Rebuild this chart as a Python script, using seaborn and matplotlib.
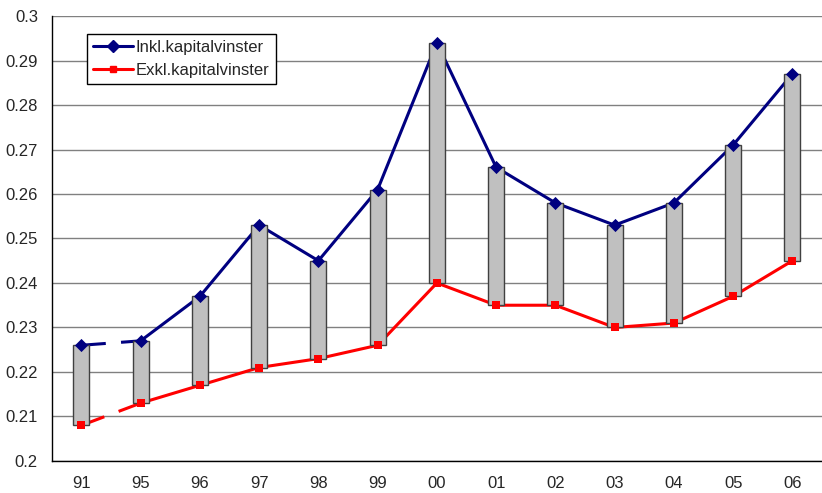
import numpy as np
import pandas as pd
import matplotlib
matplotlib.use('Agg')
import matplotlib.pyplot as plt
import seaborn as sns

# Data
years = ['91', '95', '96', '97', '98', '99', '00', '01', '02', '03', '04', '05', '06']
inkl = [0.226, 0.227, 0.237, 0.253, 0.245, 0.261, 0.294, 0.266, 0.258, 0.253, 0.258, 0.271, 0.287]
exkl = [0.208, 0.213, 0.217, 0.221, 0.223, 0.226, 0.240, 0.235, 0.235, 0.230, 0.231, 0.237, 0.245]

sns.set_style('white')
plt.rcParams['font.family'] = ['Liberation Sans', 'DejaVu Sans']

df = pd.DataFrame({'pos': np.arange(len(years)), 'inkl': inkl, 'exkl': exkl})

fig = plt.figure(figsize=(8.22, 4.93), dpi=100)
ax = fig.add_axes([0.063, 0.065, 0.937, 0.9025])

blue = '#000080'
red = '#ff0000'

# lines: dashed between 91 and 95, solid after
for col, c in [('inkl', blue), ('exkl', red)]:
    ax.plot(df['pos'][:2], df[col][:2], color=c, lw=2.2, ls=(0, (8, 5)), zorder=2)
    sns.lineplot(data=df.iloc[1:], x='pos', y=col, color=c, lw=2.2, ax=ax, zorder=2)

# grey high-low bars
ax.bar(df['pos'], df['inkl'] - df['exkl'], bottom=df['exkl'], width=0.27,
       color='#c0c0c0', edgecolor='#404040', linewidth=1.0, zorder=3)

# markers on top
ax.scatter(df['pos'], df['inkl'], marker='D', s=45, color=blue, zorder=4, linewidths=0)
ax.scatter(df['pos'], df['exkl'], marker='s', s=28, color=red, zorder=4, linewidths=0)

# legend handles
ax.plot([], [], color=blue, lw=2.2, marker='D', ms=6, label='Inkl.kapitalvinster')
ax.plot([], [], color=red, lw=2.2, marker='s', ms=5, label='Exkl.kapitalvinster')
leg = ax.legend(loc='upper left', bbox_to_anchor=(35 / 770, 0.96), fontsize=12,
                frameon=True, fancybox=False, edgecolor='black', framealpha=1,
                borderpad=0.35, borderaxespad=0, handlelength=2.4, handletextpad=0.2,
                labelspacing=0.5)
leg.get_frame().set_linewidth(1.0)

ax.set_ylim(0.2, 0.3)
ax.set_yticks(np.arange(0.2, 0.3001, 0.01))
ax.set_yticklabels(['0.2'] + ['%.2f' % v for v in np.arange(0.21, 0.2951, 0.01)] + ['0.3'])
ax.set_xlim(-0.5, 12.5 - 10 / 60)
ax.set_xticks(np.arange(len(years)))
ax.set_xticklabels(years)
ax.set_xticks(np.arange(-0.5, 12.6, 1), minor=True)
ax.tick_params(axis='x', which='major', length=0, pad=11, labelsize=12)
ax.tick_params(axis='x', which='minor', length=5, width=1, direction='out', color='black')
ax.tick_params(axis='y', length=5, width=1, direction='out', color='black', labelsize=12, pad=5)
ax.set_xlabel('')
ax.set_ylabel('')

ax.yaxis.grid(True, color='#808080', lw=1.0, zorder=0)
ax.set_axisbelow(True)
for s in ['top', 'right']:
    ax.spines[s].set_visible(False)
for s in ['left', 'bottom']:
    ax.spines[s].set_color('black')
    ax.spines[s].set_linewidth(1.0)

fig.savefig('out.png', dpi=100)
